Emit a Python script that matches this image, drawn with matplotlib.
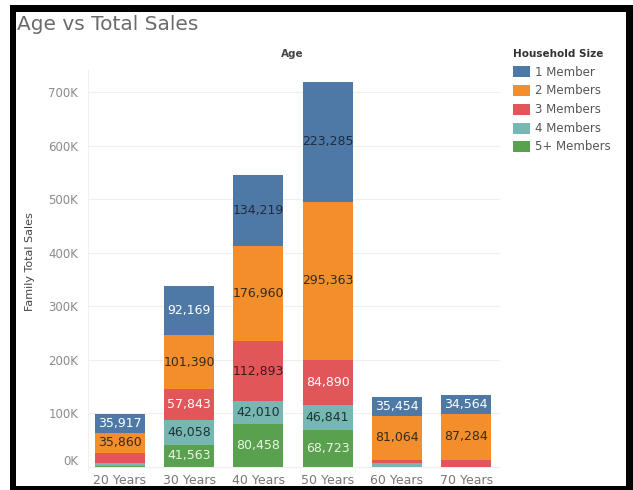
import matplotlib
matplotlib.use("Agg")
import matplotlib.pyplot as plt
from matplotlib.patches import Rectangle
from matplotlib.transforms import ScaledTranslation
import numpy as np

# ---- data -------------------------------------------------------------
ages = ["20 Years", "30 Years", "40 Years", "50 Years", "60 Years", "70 Years"]
household_sizes = ["1 Member", "2 Members", "3 Members", "4 Members", "5+ Members"]

one_member = [35917, 92169, 134219, 223285, 35454, 34564]
two_members = [35860, 101390, 176960, 295363, 81064, 87284]
three_members = [19000, 57843, 112893, 84890, 7000, 12500]
four_members = [6000, 46058, 42010, 46841, 7000, 0]
five_plus_members = [2000, 41563, 80458, 68723, 0, 0]

y_ticks = [0, 100000, 200000, 300000, 400000, 500000, 600000, 700000]
y_tick_labels = ["0K", "100K", "200K", "300K", "400K", "500K", "600K", "700K"]

# ---- styling ----------------------------------------------------------
W, H, DPI = 633, 490, 100
series = [one_member, two_members, three_members, four_members, five_plus_members]
colors = ["#4e79a7", "#f28e2b", "#e15759", "#76b7b2", "#59a14f"]
light_text = ["#ffffff", "#3a2a18", "#ffffff", "#1c3434", "#eaf5e4"]
dark_text = ["#1f2a3d", "#3a2a18", "#3a1a1c", "#1c3434", "#1f3a1c"]


def px(x, y):
    """Pixel position (from top-left) to figure fraction."""
    return x / W, 1 - y / H


fig = plt.figure(figsize=(W / DPI, H / DPI), dpi=DPI)
fig.patch.set_facecolor("white")

ax_left, ax_right, ax_top, ax_bottom = 88, 500, 70, 470
ax = fig.add_axes([ax_left / W, 1 - ax_bottom / H,
                   (ax_right - ax_left) / W, (ax_bottom - ax_top) / H])
ax.set_facecolor("white")

# stack from the largest household size at the bottom up to 1 Member on top
x = np.arange(len(ages))
bottom = np.zeros(len(ages))
for i in reversed(range(len(series))):
    vals = np.array(series[i], dtype=float)
    ax.bar(x, vals, width=0.72, bottom=bottom, color=colors[i],
           linewidth=0, zorder=3)
    for j, v in enumerate(vals):
        if v >= 30000:
            tc = dark_text[i] if v >= 100000 else light_text[i]
            ax.text(x[j], bottom[j] + v / 2, f"{int(v):,}", ha="center",
                    va="center", fontsize=9, color=tc, zorder=4)
    bottom += vals

ax.set_xlim(-0.46, 5.49)
ax.set_ylim(-5600, 742000)
ax.set_xticks(x)
ax.set_xticklabels(ages, fontsize=9, color="#777777")
ax.set_yticks(y_ticks)
ax.set_yticklabels(y_tick_labels, fontsize=8.5, color="#8a8a8a")
ax.tick_params(axis="both", length=0)
ax.tick_params(axis="y", pad=7)
ax.tick_params(axis="x", pad=3)
for lab in ax.get_yticklabels():
    if lab.get_text() == "0K":
        lab.set_transform(lab.get_transform() +
                          ScaledTranslation(0, 7 / DPI, fig.dpi_scale_trans))

ax.grid(axis="y", color="#efefef", linewidth=0.8, zorder=0)
for side in ["top", "right"]:
    ax.spines[side].set_visible(False)
ax.spines["left"].set_color("#f0f0f0")
ax.spines["bottom"].set_visible(False)
ax.axhline(0, color="#eeeeee", linewidth=0.8, zorder=1)

# axis captions
fig.text(*px(30, 262), "Family Total Sales", rotation=90, ha="center",
         va="center", fontsize=8, color="#444444")
fig.text(*px(292, 54), "Age", ha="center", va="center", fontsize=7.5,
         fontweight="bold", color="#444444")

# title
fig.text(*px(17, 29.5), "Age vs Total Sales", ha="left", va="baseline",
         fontsize=14.5, color="#6b6b6b")

# legend
fig.text(*px(513, 54), "Household Size", ha="left", va="center",
         fontsize=7.5, fontweight="bold", color="#333333")
for i, name in enumerate(household_sizes):
    cy = 72 + i * 18.7
    x0, y0 = px(513, cy + 5.5)
    fig.add_artist(Rectangle((x0, y0), 17 / W, 11 / H, transform=fig.transFigure,
                             facecolor=colors[i], edgecolor="none"))
    fig.text(*px(535, cy), name, ha="left", va="center", fontsize=8.5,
             color="#555555")

# dark frame around the view
for (bx, by, bw, bh) in [(10, 5, 623, 7), (10, 5, 6, 485),
                         (626, 5, 7, 485), (10, 486, 623, 4)]:
    x0, y0 = px(bx, by + bh)
    fig.add_artist(Rectangle((x0, y0), bw / W, bh / H, transform=fig.transFigure,
                             facecolor="black", edgecolor="none"))

fig.savefig("out.png", dpi=DPI)
